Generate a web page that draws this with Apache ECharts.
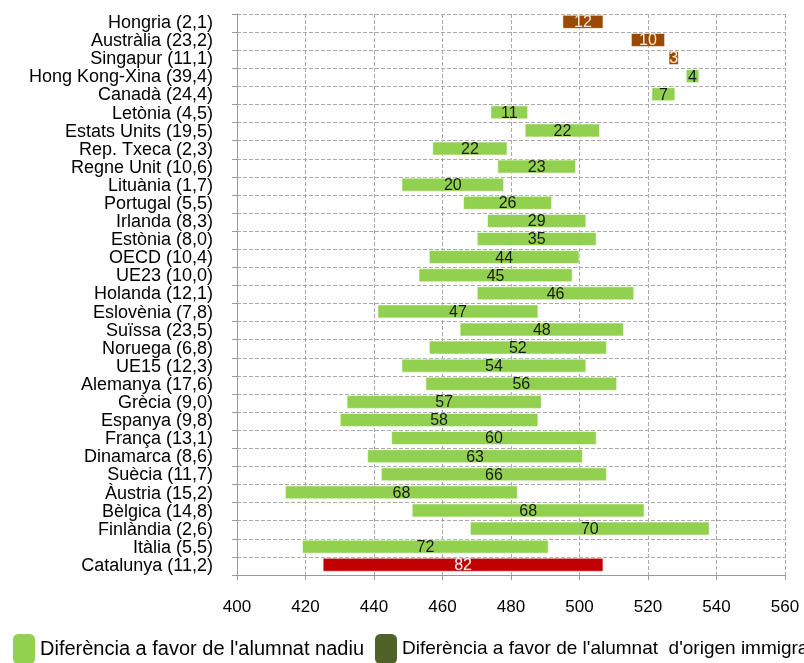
<!DOCTYPE html>
<html>
<head>
<meta charset="utf-8">
<script src="https://cdn.jsdelivr.net/npm/echarts@6/dist/echarts.min.js"></script>
<style>html,body{margin:0;padding:0;background:#fff}#c{width:804px;height:663px}</style>
</head>
<body>
<div id="c"></div>
<script>
const categories = ["Hongria (2,1)","Austràlia (23,2)","Singapur (11,1)","Hong Kong-Xina (39,4)","Canadà (24,4)","Letònia (4,5)","Estats Units (19,5)","Rep. Txeca (2,3)","Regne Unit (10,6)","Lituània (1,7)","Portugal (5,5)","Irlanda (8,3)","Estònia (8,0)","OECD (10,4)","UE23 (10,0)","Holanda (12,1)","Eslovènia (7,8)","Suïssa (23,5)","Noruega (6,8)","UE15 (12,3)","Alemanya (17,6)","Grècia (9,0)","Espanya (9,8)","França (13,1)","Dinamarca (8,6)","Suècia (11,7)","Àustria (15,2)","Bèlgica (14,8)","Finlàndia (2,6)","Itàlia (5,5)","Catalunya (11,2)"];
const inici = [495,515,526,531,521,474,484,457,476,448,466,473,470,456,453,470,441,465,456,448,455,432,430,445,438,442,414,451,468,419,425];
const final = [507,525,529,535,528,485,506,479,499,478,492,502,505,500,498,516,488,513,508,502,511,489,488,505,501,508,482,519,538,491,507];
const diferencia = [12,10,3,4,7,11,22,22,23,20,26,29,35,44,45,46,47,48,52,54,56,57,58,60,63,66,68,68,70,72,82];
const grup = ["immigrat","immigrat","immigrat","nadiu","nadiu","nadiu","nadiu","nadiu","nadiu","nadiu","nadiu","nadiu","nadiu","nadiu","nadiu","nadiu","nadiu","nadiu","nadiu","nadiu","nadiu","nadiu","nadiu","nadiu","nadiu","nadiu","nadiu","nadiu","nadiu","nadiu","catalunya"];
const xTicks = {min:400, max:560, interval:20};
const nomNadiu = "Diferència a favor de l'alumnat nadiu";
const nomImmigrat = "Diferència a favor de l'alumnat  d'origen immigrat";

const colors = {nadiu:'#92D050', immigrat:'#9A4A00', catalunya:'#C00000'};
const labelColors = {nadiu:'#1a1a1a', immigrat:'#fde9d9', catalunya:'#ffffff'};

const chart = echarts.init(document.getElementById('c'), null, {renderer:'canvas'});
const font = 'Liberation Sans, Arial, sans-serif';
chart.setOption({
  animation:false,
  textStyle:{fontFamily:font},
  grid:{left:237, right:19, top:14, bottom:88, containLabel:false},
  legend:[
    {data:[nomNadiu], left:8, top:629, itemWidth:22, itemHeight:30, itemGap:10,
     textStyle:{fontSize:20, color:'#000', fontFamily:font, padding:[10,0,0,0]}, selectedMode:false},
    {data:[nomImmigrat], left:370, top:629, itemWidth:22, itemHeight:30, itemGap:10,
     textStyle:{fontSize:19, color:'#000', fontFamily:font, padding:[10,0,0,0]}, selectedMode:false}
  ],
  xAxis:{
    type:'value', min:xTicks.min, max:xTicks.max, interval:xTicks.interval,
    axisLine:{show:true, lineStyle:{color:'#999', width:1}},
    axisTick:{show:true, length:5, lineStyle:{color:'#999'}},
    axisLabel:{fontSize:17, color:'#000', margin:24, fontFamily:font},
    splitLine:{show:true, lineStyle:{type:[4,2], color:'#aaa', width:1}}
  },
  yAxis:{
    type:'category', data:categories, inverse:true,
    axisLine:{show:true, lineStyle:{color:'#999', width:1}},
    axisTick:{show:true, length:5, interval:0, lineStyle:{color:'#999'}},
    axisLabel:{fontSize:18, color:'#000', margin:24, interval:0, fontFamily:font, lineHeight:18},
    splitLine:{show:true, interval:0, lineStyle:{type:[4,2], color:'#aaa', width:1}}
  },
  series:[
    {name:'base', type:'bar', stack:'r', data:inici, barWidth:14, silent:true,
     itemStyle:{color:'transparent'}},
    {name:nomNadiu, type:'bar', stack:'r', barWidth:14,
     itemStyle:{color:colors.nadiu},
     data: final.map((f,i)=>({
       value: f - inici[i],
       itemStyle:{color:colors[grup[i]], borderColor:'rgba(255,255,255,0.55)', borderWidth:1},
       label:{color:labelColors[grup[i]]}
     })),
     label:{show:true, position:'inside', fontSize:16, fontFamily:font, offset:[0,1],
       formatter:p=>String(diferencia[p.dataIndex])}
    },
    {name:nomImmigrat, type:'bar', data:[], itemStyle:{color:'#4F6228'}}
  ]
});
</script>
</body>
</html>
